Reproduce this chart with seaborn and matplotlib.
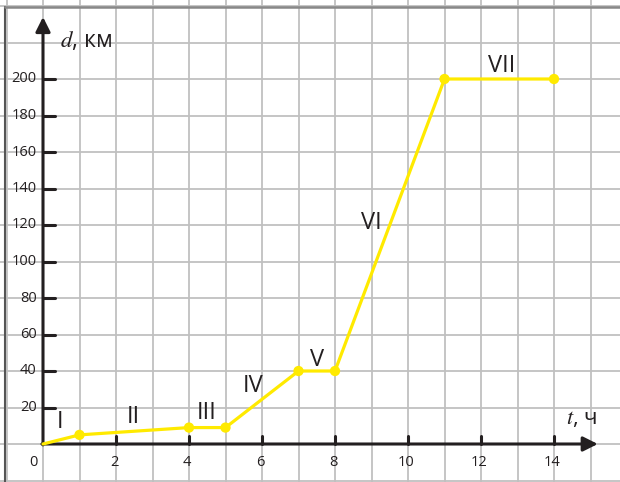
import numpy as np
import matplotlib
matplotlib.use('Agg')
import matplotlib.pyplot as plt
from matplotlib.lines import Line2D
import seaborn as sns

# данные: время (ч) и расстояние (км)
t = [0, 1, 4, 5, 7, 8, 11, 14]
d = [0, 5, 9, 9, 40, 40, 200, 200]

x_ticks = [2, 4, 6, 8, 10, 12, 14]
y_ticks = [20, 40, 60, 80, 100, 120, 140, 160, 180, 200]

parts = ['I', 'II', 'III', 'IV', 'V', 'VI', 'VII']
part_x = [0.47, 2.47, 4.49, 5.75, 7.5, 9.0, 12.57]
part_y = [12, 15, 17, 32, 46, 121, 207]

sns.set_style('white')
plt.rcParams['font.family'] = ['Open Sans', 'DejaVu Sans']
plt.rcParams['mathtext.fontset'] = 'stix'

yellow = '#FFEA00'
grid_c = '#c0c0c0'

fig = plt.figure(figsize=(6.2, 4.82), dpi=100)
ax = fig.add_axes([0, 0, 1, 1])

# сетка
for gx in range(-1, 17):
    ax.axvline(gx, color=grid_c, lw=1.3, zorder=0)
for gy in range(-20, 260, 20):
    ax.axhline(gy, color=grid_c, lw=1.3, zorder=0)

# оси со стрелками
ax.annotate('', xy=(0, 234), xytext=(0, -0.5),
            arrowprops=dict(arrowstyle='-|>', lw=2.2, color='#231f20', mutation_scale=22,
                            shrinkA=0, shrinkB=0), zorder=3)
ax.annotate('', xy=(15.2, 0), xytext=(-0.03, 0),
            arrowprops=dict(arrowstyle='-|>', lw=2.2, color='#231f20', mutation_scale=22,
                            shrinkA=0, shrinkB=0), zorder=3)

for yt in y_ticks:
    ax.plot([0, 0.34], [yt, yt], color='#231f20', lw=2.2, zorder=3)
    ax.text(-0.17, yt, str(yt), ha='right', va='center', fontsize=10.5, color='#231f20')
for xt in x_ticks:
    ax.plot([xt, xt], [0, 4.4], color='#231f20', lw=2.2, zorder=3)
    ax.text(xt - 0.05, -10, str(xt), ha='center', va='center', fontsize=10.5, color='#231f20')
ax.text(-0.27, -10, '0', ha='center', va='center', fontsize=10.5, color='#231f20')

# график
sns.lineplot(x=t, y=d, sort=False, color=yellow, lw=2.3, ax=ax, zorder=4)
sns.scatterplot(x=t[1:], y=d[1:], color=yellow, s=55, edgecolor='none', ax=ax, zorder=5)
ax.set_xlim(-43 / 36.5, (620 - 43) / 36.5)
ax.set_ylim((444 - 482) / 1.825, 444 / 1.825)
ax.axis('off')

for name, px, py in zip(parts, part_x, part_y):
    ax.text(px, py, name, ha='center', va='center', fontsize=17, color='#231f20')

ax.text(0.47, 221, r'$d$, км', ha='left', va='center', fontsize=16.5, color='#231f20')
ax.text(14.33, 14, r'$t$, ч', ha='left', va='center', fontsize=16, color='#231f20')

# рамка слева и сверху
fig.add_artist(Line2D([4.5 / 620, 4.5 / 620], [0, 1 - 6.5 / 482], color='#555555', lw=1.5))
fig.add_artist(Line2D([4.5 / 620, 1], [1 - 6.5 / 482, 1 - 6.5 / 482], color='#888888', lw=1.8))

fig.savefig('out.png', dpi=100)
